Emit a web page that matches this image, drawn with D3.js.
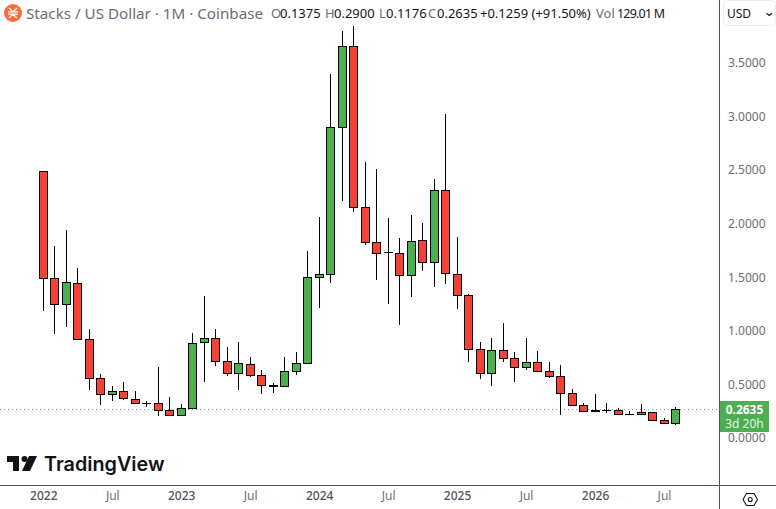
<!DOCTYPE html>
<html><head><meta charset="utf-8">
<script src="https://cdn.jsdelivr.net/npm/d3@7/dist/d3.min.js"></script>
<style>html,body{margin:0;padding:0;background:#fff;overflow:hidden}svg{display:block;font-family:"Noto Sans",sans-serif}</style>
</head><body><svg id="c" width="776" height="509"></svg>
<script>
const opens =[2.484,1.490,1.247,1.443,.921,.557,.408,.436,.361,.325,.324,.258,.212,.277,.893,.930,.715,.604,.688,.585,.492,.482,.622,.697,1.499,1.527,2.898,3.654,2.152,1.826,1.733,1.723,1.518,1.844,1.639,2.311,1.527,1.331,.827,.604,.818,.743,.660,.706,.622,.576,.417,.305,.258,.259,.258,.222,.221,.240,.165,.1375];
const closes=[1.490,1.247,1.452,.921,.557,.408,.436,.370,.324,.323,.258,.212,.277,.883,.930,.715,.604,.697,.585,.492,.482,.622,.697,1.499,1.527,2.898,3.654,2.152,1.826,1.723,1.731,1.518,1.835,1.639,2.311,1.536,1.331,.827,.604,.818,.743,.660,.706,.622,.576,.417,.305,.249,.249,.257,.221,.220,.240,.165,.1375,.2635];
const highs =[2.484,1.791,1.940,1.586,1.017,.597,.485,.522,.438,.345,.662,.382,.317,.979,1.325,1.017,.849,.896,.756,.634,.513,.756,.802,1.744,2.062,3.396,3.797,3.843,2.575,2.509,2.052,1.866,2.080,2.006,2.416,3.022,1.875,1.343,.896,.933,1.073,.802,.933,.812,.709,.681,.457,.326,.410,.326,.280,.252,.317,.240,.187,.29];
const lows  =[1.187,.973,1.038,.921,.451,.311,.348,.357,.324,.292,.208,.212,.212,.277,.525,.674,.581,.451,.572,.413,.423,.482,.590,.697,1.215,1.449,2.214,2.111,1.803,1.477,1.253,1.057,1.318,1.561,1.411,1.439,1.206,.712,.553,.488,.712,.525,.637,.622,.563,.217,.305,.249,.249,.230,.221,.221,.221,.165,.1375,.1176];
const priceTicks=[0,.5,1,1.5,2,2.5,3,3.5];
const timeTickIdx=[0,6,12,18,24,30,36,42,48,54];
const timeTickLabels=["2022","Jul","2023","Jul","2024","Jul","2025","Jul","2026","Jul"];
const title="Stacks / US Dollar · 1M · Coinbase";
const ohlcLabels=["O","H","L","C"];
const ohlcValues=["0.1375","0.2900","0.1176","0.2635"];
const changeText="+0.1259 (+91.50%)";
const volLabel="Vol", volValue="129.01 M";
const lastPrice=0.2635, countdown="3d 20h", currency="USD", brand="TradingView";

const svg=d3.select("#c");
const W=776,H=509,paneR=719,paneB=485;
const x=d3.scaleLinear().domain([0,55]).range([43.3,675.5]);
const y=d3.scaleLinear().domain([0,3.5]).range([438,63]);
const snap=v=>Math.round(v-.5)+.5;
const INK="#000",UP="#4caf50",DOWN="#f44336",AX="#50535e",TXT="#6a6d78";

// price line
svg.append("line").attr("x1",0).attr("x2",paneR).attr("y1",snap(y(lastPrice))).attr("y2",snap(y(lastPrice)))
 .attr("stroke","#4c8f50").attr("stroke-opacity",.8).attr("stroke-dasharray","1 3");

// candles
const g=svg.append("g").attr("shape-rendering","crispEdges");
const cs=g.selectAll("g").data(d3.range(opens.length)).join("g");
cs.append("line").attr("x1",i=>snap(x(i))).attr("x2",i=>snap(x(i)))
 .attr("y1",i=>Math.round(y(highs[i]))).attr("y2",i=>Math.round(y(lows[i])))
 .attr("stroke",INK).attr("stroke-width",1);
cs.append("rect").attr("x",i=>snap(x(i))-4).attr("width",8)
 .attr("y",i=>snap(y(Math.max(opens[i],closes[i]))))
 .attr("height",i=>Math.max(0.02,snap(y(Math.min(opens[i],closes[i])))-snap(y(Math.max(opens[i],closes[i])))))
 .attr("fill",i=>closes[i]>opens[i]?UP:DOWN).attr("stroke",INK).attr("stroke-width",1);

// axes
const ya=d3.axisRight(y).tickValues(priceTicks).tickFormat(d3.format(".4f")).tickSize(0).tickPadding(9);
const yg=svg.append("g").attr("transform",`translate(${paneR},0)`).call(ya);
yg.select(".domain").remove();
yg.selectAll("text").attr("fill",TXT).attr("font-size",12).attr("font-family",'"Noto Sans",sans-serif');
const xa=d3.axisBottom(x).tickValues(timeTickIdx).tickFormat((d,i)=>timeTickLabels[i]).tickSize(0).tickPadding(6);
const xg=svg.append("g").attr("transform",`translate(0,${paneB})`).call(xa);
xg.select(".domain").remove();
xg.selectAll("text").attr("fill",TXT).attr("font-size",12).attr("font-family",'"Noto Sans",sans-serif');
xg.selectAll("text").filter((d,i)=>i%2==0).attr("font-weight",500).attr("fill","#50535e");

svg.append("line").attr("x1",0).attr("x2",W).attr("y1",485.5).attr("y2",485.5).attr("stroke",AX);
svg.append("line").attr("x1",719.5).attr("x2",719.5).attr("y1",0).attr("y2",H).attr("stroke",AX);

// last price label
svg.append("rect").attr("x",720).attr("y",401).attr("width",49).attr("height",31).attr("fill",UP);
svg.append("text").attr("x",744.5).attr("y",414).attr("text-anchor","middle").attr("fill","#fff").attr("font-size",12).attr("font-weight",700).text(d3.format(".4f")(lastPrice));
svg.append("text").attr("x",744.5).attr("y",428).attr("text-anchor","middle").attr("fill","#e3f2e4").attr("font-size",12).text(countdown);

// header
const logo=svg.append("g").attr("transform","translate(13,13)");
logo.append("circle").attr("r",9).attr("fill","#ff6a3a");
logo.append("path").attr("d","M-5,-1.2H5M-5,1.2H5M-4,-5L0,-1.2L4,-5M-4,5L0,1.2L4,5").attr("stroke","#fff").attr("stroke-width",1.2).attr("fill","none");
svg.append("text").attr("x",26).attr("y",19).attr("fill","#6a6d78").attr("font-size",15.2).text(title);
const ohlcX=[271,325,379,428];
ohlcLabels.forEach((l,i)=>{
 svg.append("text").attr("x",ohlcX[i]).attr("y",18).attr("fill",TXT).attr("font-size",13).text(l);
 svg.append("text").attr("x",ohlcX[i]+(l=="L"?7:9)).attr("y",18).attr("fill","#131722").attr("font-size",13).text(ohlcValues[i]);
});
svg.append("text").attr("x",480).attr("y",18).attr("fill","#131722").attr("font-size",13).text(changeText);
svg.append("text").attr("x",596).attr("y",18).attr("fill",TXT).attr("font-size",13).text(volLabel);
svg.append("text").attr("x",617).attr("y",18).attr("fill","#131722").attr("font-size",12.5).attr("textLength",48).text(volValue);

// currency button
svg.append("rect").attr("x",723.5).attr("y",.5).attr("width",52).attr("height",25).attr("rx",4).attr("fill","#fff").attr("stroke","#eceef2");
svg.append("text").attr("x",727).attr("y",18).attr("fill","#131722").attr("font-size",12).text(currency);
svg.append("path").attr("d","M766.5,13.2L769.2,15.5L772,13.2").attr("fill","none").attr("stroke","#131722").attr("stroke-width",1.2);

// settings icon
svg.append("path").attr("d","M746.5,493.5H754L757.5,499.5L754,505.5H746.5L743,499.5Z").attr("fill","none").attr("stroke","#131722").attr("stroke-width",1.1);
svg.append("circle").attr("cx",750.2).attr("cy",499.5).attr("r",2).attr("fill","none").attr("stroke","#131722").attr("stroke-width",1.1);

// TradingView mark
const tv=svg.append("g").attr("fill","#131313");
tv.append("path").attr("d","M7,456H19V471H13V462H7Z");
tv.append("circle").attr("cx",24.5).attr("cy",459).attr("r",3);
tv.append("path").attr("d","M29,456H37L30,471H22Z");
svg.append("text").attr("x",44).attr("y",471).attr("fill","#131313").attr("font-family","Inter,sans-serif").attr("font-weight",600).attr("font-size",19.8).text(brand);
</script></body></html>
